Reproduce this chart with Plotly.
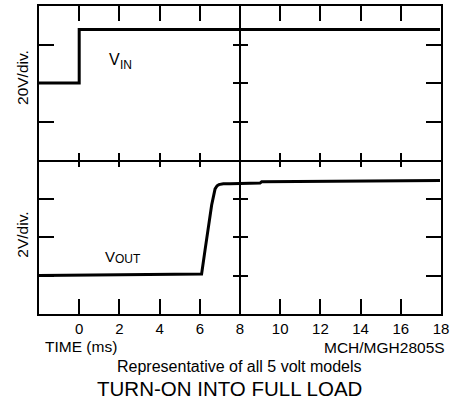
import plotly.graph_objects as go

# ---- data (y values in divisions of each panel) ----
vin_t = [-2.0, 0.0, 0.0, 17.95]
vin_div = [2.0, 2.0, 3.39, 3.39]

vout_t = [-2.0, 6.09, 6.26, 6.43, 6.59, 6.76, 6.86, 6.95, 7.17, 7.5, 8.0, 9.0, 9.08, 17.95]
vout_div = [1.0, 1.04, 1.66, 2.27, 2.83, 3.25, 3.33, 3.36, 3.38, 3.385, 3.394, 3.40, 3.437, 3.47]

x_tick_vals = [0, 2, 4, 6, 8, 10, 12, 14, 16, 18]
x_tick_text = ["0", "2", "4", "6", "8", "10", "12", "14", "16", "18"]
y_tick_vals = [1, 2, 3]

FONT = "Liberation Sans, Arial, Helvetica, sans-serif"
BLACK = "#000000"

fig = go.Figure()
fig.add_trace(go.Scatter(x=vin_t, y=vin_div, mode="lines", xaxis="x", yaxis="y2",
                         line=dict(color=BLACK, width=3), showlegend=False,
                         hoverinfo="skip"))
fig.add_trace(go.Scatter(x=vout_t, y=vout_div, mode="lines", xaxis="x", yaxis="y",
                         line=dict(color=BLACK, width=3), showlegend=False,
                         hoverinfo="skip"))

xr = [-2, 18]
yr = [0, 4]
common_x = dict(range=xr, tickvals=x_tick_vals, showgrid=False, zeroline=False,
                tickcolor=BLACK, tickwidth=1.5, linecolor=BLACK, fixedrange=True)
common_y = dict(range=yr, tickvals=y_tick_vals, showgrid=False, zeroline=False,
                tickcolor=BLACK, tickwidth=1.5, linecolor=BLACK, showticklabels=False,
                fixedrange=True)

fig.update_layout(
    width=466, height=400,
    margin=dict(l=39, r=25, t=6, b=86, autoexpand=False),
    paper_bgcolor="white", plot_bgcolor="white",
    font=dict(family=FONT, size=15, color=BLACK),
    # bottom frame edge with labels
    xaxis=dict(**common_x, domain=[0, 1], anchor="y", side="bottom", showline=True,
               linewidth=2, ticks="inside", ticklen=15, ticktext=x_tick_text,
               showticklabels=True, tickfont=dict(family=FONT, size=15, color=BLACK)),
    # top frame edge
    xaxis2=dict(**common_x, domain=[0, 1], overlaying="x", anchor="y2", side="top",
                showline=True, linewidth=2, ticks="inside", ticklen=15,
                showticklabels=False),
    # middle horizontal divider, ticks pointing up
    xaxis3=dict(**common_x, domain=[0, 1], overlaying="x", anchor="y2", side="bottom",
                showline=True, linewidth=1.5, ticks="inside", ticklen=7,
                showticklabels=False),
    # middle horizontal divider, ticks pointing down
    xaxis4=dict(**common_x, domain=[0, 1], overlaying="x", anchor="y", side="top",
                showline=False, ticks="inside", ticklen=7, showticklabels=False),
    # bottom panel
    yaxis=dict(**common_y, domain=[0, 0.5], anchor="x", side="left", showline=True,
               linewidth=2, mirror="ticks", ticks="inside", ticklen=15),
    # top panel
    yaxis2=dict(**common_y, domain=[0.5, 1], anchor="x", side="left", showline=True,
                linewidth=2, mirror="ticks", ticks="inside", ticklen=15),
    # vertical divider at t = 8 ms (bottom panel)
    yaxis3=dict(**common_y, domain=[0, 0.5], overlaying="y", anchor="free", position=0.5,
                side="left", showline=True, linewidth=1.5, ticks="inside", ticklen=7),
    yaxis4=dict(**common_y, domain=[0, 0.5], overlaying="y", anchor="free", position=0.5,
                side="right", showline=False, ticks="inside", ticklen=7),
    # vertical divider at t = 8 ms (top panel)
    yaxis5=dict(**common_y, domain=[0.5, 1], overlaying="y2", anchor="free", position=0.5,
                side="left", showline=True, linewidth=1.5, ticks="inside", ticklen=7),
    yaxis6=dict(**common_y, domain=[0.5, 1], overlaying="y2", anchor="free", position=0.5,
                side="right", showline=False, ticks="inside", ticklen=7),
)

# invisible helper traces so the overlay axes are drawn
for xa, ya in [("x2", "y2"), ("x3", "y2"), ("x4", "y"), ("x", "y3"), ("x", "y4"),
               ("x", "y5"), ("x", "y6")]:
    fig.add_trace(go.Scatter(x=[None], y=[None], xaxis=xa, yaxis=ya, mode="lines",
                             showlegend=False, hoverinfo="skip"))

ann = [
    dict(text="V", x=1.38, y=2.60, xref="x", yref="y2", xanchor="left",
         yanchor="middle", font=dict(size=16)),
    dict(text="IN", x=1.95, y=2.46, xref="x", yref="y2", xanchor="left",
         yanchor="middle", font=dict(size=12)),
    dict(text="V", x=1.18, y=1.50, xref="x", yref="y", xanchor="left",
         yanchor="middle", font=dict(size=15)),
    dict(text="OUT", x=1.70, y=1.43, xref="x", yref="y", xanchor="left",
         yanchor="middle", font=dict(size=12)),
    dict(text="20V/div.", x=-0.041, y=0.768, xref="paper", yref="paper", textangle=-90,
         xanchor="center", yanchor="middle", font=dict(size=15.5)),
    dict(text="2V/div.", x=-0.041, y=0.256, xref="paper", yref="paper", textangle=-90,
         xanchor="center", yanchor="middle", font=dict(size=15.5)),
    dict(text="TIME (ms)", x=0.01, y=-0.104, xref="paper", yref="paper", xanchor="left",
         yanchor="middle", font=dict(size=15.5)),
    dict(text="MCH/MGH2805S", x=1.014, y=-0.110, xref="paper", yref="paper",
         xanchor="right", yanchor="middle", font=dict(size=15.5)),
    dict(text="Representative of all 5 volt models", x=0.499, y=-0.172, xref="paper",
         yref="paper", xanchor="center", yanchor="middle", font=dict(size=16)),
    dict(text="TURN-ON INTO FULL LOAD", x=0.475, y=-0.2435, xref="paper", yref="paper",
         xanchor="center", yanchor="middle", font=dict(size=20.5)),
]
for a in ann:
    a["showarrow"] = False
    fig.add_annotation(**a)

fig.write_html("out.html", config={"displayModeBar": False},
               post_script="document.body.style.margin='0px';document.body.style.padding='0px';")
